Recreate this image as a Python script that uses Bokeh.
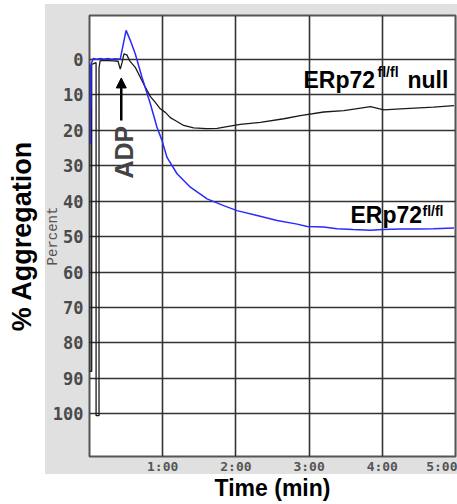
import math
from bokeh.plotting import figure
from bokeh.models import Range1d, FixedTicker, Label, Arrow, NormalHead, LinearAxis
from bokeh.embed import file_html
from bokeh.resources import INLINE

# ---------------- data ----------------
# ERp72 fl/fl (blue trace): time in minutes, % aggregation
wt_time = [0.010, 0.012, 0.016, 0.020, 0.05, 0.10, 0.15, 0.20, 0.25, 0.30, 0.35, 0.42,
           0.46, 0.50, 0.557, 0.625, 0.717, 0.830, 0.922, 0.990, 1.059, 1.196, 1.378,
           1.606, 1.833, 2.016, 2.29, 2.563, 2.837, 2.974, 3.20, 3.38, 3.60, 3.84, 4.00,
           4.25, 4.50, 4.70, 4.98]
wt_agg = [24.0, 2.0, 14.0, 1.5, -0.2, 0.0, -0.2, 0.0, -0.2, 0.0, -0.1, 0.0,
          -4.1, -8.1, -5.3, -1.5, 5.1, 12.5, 19.2, 22.9, 27.7, 32.3, 36.1,
          39.4, 41.3, 42.7, 44.1, 45.5, 46.5, 47.2, 47.3, 47.8, 48.0, 48.2, 48.0,
          47.9, 47.9, 47.8, 47.6]

# ERp72 fl/fl null (black trace)
null_time = [0.004, 0.004, 0.030, 0.030, 0.090, 0.090, 0.130, 0.130, 0.145, 0.17, 0.25,
             0.33, 0.39, 0.42, 0.445, 0.47, 0.51, 0.55, 0.625, 0.762, 0.83, 0.899, 0.967,
             1.036, 1.104, 1.172, 1.286, 1.423, 1.60, 1.743, 1.88, 2.06, 2.335, 2.654,
             2.88, 3.20, 3.475, 3.84, 4.02, 4.25, 4.70, 4.98]
null_agg = [1.5, 88.0, 88.0, 1.5, 1.0, 100.5, 100.5, 2.5, 0.5, 0.4, 0.4,
            0.5, 0.6, 2.8, 1.0, -1.5, -1.2, 0.5, 2.3, 7.9, 10.5, 12.2, 14.0,
            15.0, 16.5, 17.3, 18.7, 19.4, 19.6, 19.5, 19.0, 18.4, 17.8, 16.8,
            15.9, 14.9, 14.5, 13.4, 14.3, 14.0, 13.5, 13.1]

x_ticks = [1, 2, 3, 4, 5]
x_tick_labels = ["1:00", "2:00", "3:00", "4:00", "5:00"]
y_ticks = [0, 10, 20, 30, 40, 50, 60, 70, 80, 90, 100]
y_tick_labels = ["0", "10", "20", "30", "40", "50", "60", "70", "80", "90", "100"]

# ---------------- figure ----------------
p = figure(width=457, height=504, x_range=Range1d(0, 5.0), y_range=Range1d(112.0, -12.3),
           output_backend="svg", toolbar_location=None,
           min_border_left=89, min_border_right=2, min_border_top=15, min_border_bottom=48)
# grey instrument panel on a white page (painted behind a transparent border)
p.border_fill_color = None
p.styles = {"background": "linear-gradient(#e0e0e0, #e0e0e0) 45px 4px / 412px 470px no-repeat, #ffffff"}
p.background_fill_color = "white"
p.outline_line_color = "#555555"
p.outline_line_width = 2

# axes
p.xaxis.ticker = FixedTicker(ticks=x_ticks)
p.xaxis.major_label_overrides = dict(zip(x_ticks, x_tick_labels))
p.yaxis.ticker = FixedTicker(ticks=y_ticks)
p.yaxis.major_label_overrides = dict(zip(y_ticks, y_tick_labels))
for ax in (p.xaxis, p.yaxis):
    ax.axis_line_color = None
    ax.major_tick_line_color = None
    ax.minor_tick_line_color = None
    ax.major_tick_out = 0
    ax.major_tick_in = 0
    ax.minor_tick_out = 0
    ax.minor_tick_in = 0
    ax.major_label_text_font = "DejaVu Sans Mono"
    ax.major_label_text_font_style = "bold"
p.yaxis.major_label_text_font_size = "17px"
p.yaxis.major_label_text_color = "#4a4a4a"
p.yaxis.major_label_standoff = 6
p.xaxis.major_label_text_font_size = "13px"
p.xaxis.major_label_text_color = "#555555"
p.xaxis.major_label_standoff = 2

p.yaxis.axis_label = "Percent"
p.yaxis.axis_label_text_font = "Liberation Mono"
p.yaxis.axis_label_text_font_style = "normal"
p.yaxis.axis_label_text_font_size = "14px"
p.yaxis.axis_label_text_color = "#555555"
p.yaxis.axis_label_standoff = -11

p.xaxis.axis_label = "Time (min)"
p.xaxis.axis_label_text_font = "Liberation Sans"
p.xaxis.axis_label_text_font_style = "bold"
p.xaxis.axis_label_text_font_size = "23px"
p.xaxis.axis_label_text_color = "black"
p.xaxis.axis_label_standoff = -2

outer = LinearAxis(axis_label="% Aggregation", ticker=FixedTicker(ticks=[]),
                   axis_line_color=None, major_tick_line_color=None, minor_tick_line_color=None,
                   major_tick_out=0, major_tick_in=0, minor_tick_out=0, minor_tick_in=0,
                   major_label_text_font_size="0px", major_label_standoff=0,
                   axis_label_text_font="Liberation Sans", axis_label_text_font_style="bold",
                   axis_label_text_font_size="27px", axis_label_text_color="black",
                   axis_label_standoff=5)
p.add_layout(outer, "left")

# grid
p.xgrid.ticker = FixedTicker(ticks=x_ticks)
p.ygrid.ticker = FixedTicker(ticks=y_ticks)
for g in (p.xgrid, p.ygrid):
    g.grid_line_color = "#333333"
    g.grid_line_width = 1.6
    g.grid_line_alpha = 1.0

# traces
p.line(null_time, null_agg, line_color="#1a1a1a", line_width=1.3)
p.line(wt_time, wt_agg, line_color="#2a2aff", line_width=1.5)

# annotations
p.add_layout(Arrow(end=NormalHead(size=10, fill_color="black", line_color="black"),
                   x_start=0.434, y_start=17.3, x_end=0.434, y_end=5.3,
                   line_width=2.5, line_color="black"))
p.add_layout(Label(x=0.466, y=26.2, text="ADP", angle=math.pi / 2,
                   text_align="center", text_baseline="middle",
                   text_font="Liberation Sans", text_font_style="bold", text_font_size="25px"))

bold = dict(text_font="Liberation Sans", text_font_style="bold", text_color="black",
            text_baseline="alphabetic")
# ERp72fl/fl null
p.add_layout(Label(x=2.923, y=5.9, text="ERp72", text_font_size="23px", **bold))
p.add_layout(Label(x=3.935, y=3.5, text="fl/fl", text_font_size="14px", **bold))
p.add_layout(Label(x=4.344, y=5.9, text="null", text_font_size="23px", **bold))
# ERp72fl/fl
p.add_layout(Label(x=3.566, y=44.0, text="ERp72", text_font_size="23px", **bold))
p.add_layout(Label(x=4.549, y=42.8, text="fl/fl", text_font_size="14px", **bold))

open("out.html", "w").write(file_html(p, INLINE))
